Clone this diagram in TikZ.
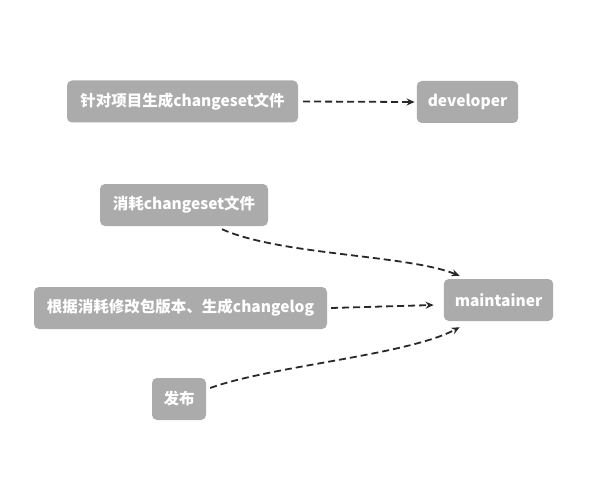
\documentclass[tikz,border=0pt]{standalone}
\usepackage{fontspec}
\setmainfont{Noto Sans CJK SC}
\usepackage{xcolor}
\definecolor{boxgray}{RGB}{171,171,171}
\definecolor{arrowgray}{RGB}{40,40,40}
\usepackage{tikz}
\usetikzlibrary{calc}
\usetikzlibrary{arrows.meta}
\tikzset{
    box/.style={fill=boxgray, text=white, rounded corners=5pt, minimum height=42pt, inner xsep=11pt,
        font=\bfseries\fontsize{15.5}{18}\selectfont},
    flow/.style={draw=arrowgray, line width=1.8pt, dash pattern=on 7pt off 4pt,
        -{Stealth[length=8pt, width=7pt]}}
}

\begin{document}
\begin{tikzpicture}[x=1pt, y=-1pt]
    \useasboundingbox (0,0) rectangle (601,497);
    \path
        node[box, minimum width=231pt] (gen) at (182.5,101.5) {针对项目生成changeset文件}
        node[box] (dev) at (467.5,102) {developer}
        node[box, minimum width=168pt] (consume) at (184,205) {消耗changeset文件}
        node[box, minimum width=293pt] (bump) at (180.5,308) {根据消耗修改包版本、生成changelog}
        node[box] (maint) at (498.5,300) {maintainer}
        node[box, minimum width=54pt] (pub) at (179,399) {发布};

    \draw[flow] ([xshift=5pt]gen.east) -- ([xshift=-2pt]dev.west);
    \draw[flow] ([xshift=38pt,yshift=-3pt]consume.south) .. controls +(58,26) and +(-52,-21) .. ([xshift=16pt,yshift=3pt]maint.north west);
    \draw[flow] ([xshift=4pt]bump.east) -- ([xshift=-10pt,yshift=-5pt]maint.west);
    \draw[flow] ([xshift=4pt,yshift=11pt]pub.east) .. controls +(60,-22) and +(-52,28) .. ([xshift=16pt,yshift=-6pt]maint.south west);
\end{tikzpicture}
\end{document}
